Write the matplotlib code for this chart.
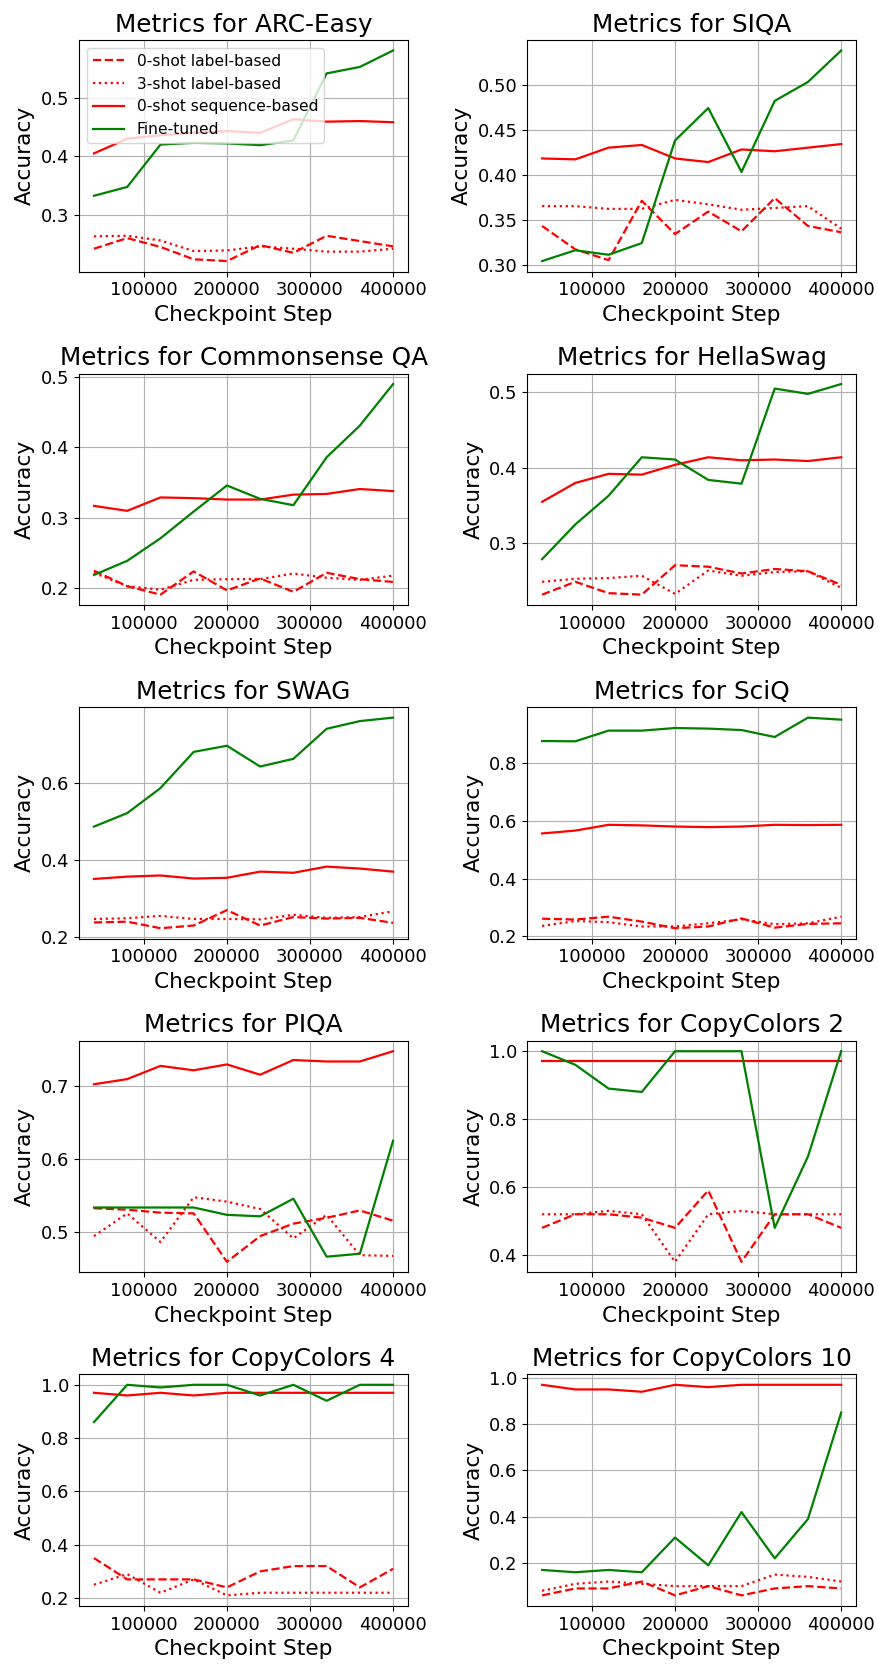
import matplotlib
matplotlib.use("Agg")
import matplotlib.pyplot as plt

steps = [40000, 80000, 120000, 160000, 200000, 240000, 280000, 320000, 360000, 400000]

tasks = ["ARC-Easy", "SIQA", "Commonsense QA", "HellaSwag", "SWAG", "SciQ",
         "PIQA", "CopyColors 2", "CopyColors 4", "CopyColors 10"]

# 0-shot label-based
zero_label = {
    "ARC-Easy":       [0.243, 0.261, 0.246, 0.225, 0.222, 0.249, 0.236, 0.265, 0.256, 0.247],
    "SIQA":           [0.343, 0.317, 0.305, 0.371, 0.334, 0.359, 0.337, 0.374, 0.343, 0.336],
    "Commonsense QA": [0.225, 0.203, 0.191, 0.224, 0.197, 0.214, 0.195, 0.222, 0.213, 0.209],
    "HellaSwag":      [0.232, 0.249, 0.234, 0.232, 0.271, 0.269, 0.260, 0.266, 0.263, 0.245],
    "SWAG":           [0.238, 0.240, 0.223, 0.230, 0.270, 0.230, 0.252, 0.248, 0.250, 0.237],
    "SciQ":           [0.261, 0.258, 0.268, 0.251, 0.228, 0.234, 0.262, 0.230, 0.243, 0.245],
    "PIQA":           [0.533, 0.531, 0.527, 0.526, 0.460, 0.495, 0.512, 0.520, 0.530, 0.516],
    "CopyColors 2":   [0.48, 0.52, 0.52, 0.51, 0.48, 0.59, 0.38, 0.52, 0.52, 0.48],
    "CopyColors 4":   [0.35, 0.27, 0.27, 0.27, 0.24, 0.30, 0.32, 0.32, 0.24, 0.31],
    "CopyColors 10":  [0.06, 0.09, 0.09, 0.12, 0.06, 0.10, 0.06, 0.09, 0.10, 0.09],
}

# 3-shot label-based
three_label = {
    "ARC-Easy":       [0.264, 0.265, 0.257, 0.239, 0.240, 0.247, 0.243, 0.238, 0.238, 0.243],
    "SIQA":           [0.365, 0.365, 0.362, 0.362, 0.372, 0.367, 0.361, 0.363, 0.365, 0.340],
    "Commonsense QA": [0.222, 0.203, 0.198, 0.212, 0.213, 0.213, 0.221, 0.215, 0.212, 0.218],
    "HellaSwag":      [0.249, 0.253, 0.254, 0.257, 0.233, 0.264, 0.257, 0.262, 0.263, 0.241],
    "SWAG":           [0.247, 0.249, 0.255, 0.247, 0.247, 0.246, 0.258, 0.250, 0.252, 0.267],
    "SciQ":           [0.236, 0.253, 0.249, 0.234, 0.234, 0.245, 0.259, 0.242, 0.245, 0.268],
    "PIQA":           [0.495, 0.526, 0.487, 0.548, 0.542, 0.532, 0.492, 0.524, 0.469, 0.468],
    "CopyColors 2":   [0.52, 0.52, 0.53, 0.52, 0.38, 0.52, 0.53, 0.52, 0.52, 0.52],
    "CopyColors 4":   [0.25, 0.29, 0.22, 0.27, 0.21, 0.22, 0.22, 0.22, 0.22, 0.22],
    "CopyColors 10":  [0.08, 0.11, 0.12, 0.11, 0.10, 0.10, 0.10, 0.15, 0.14, 0.12],
}

# 0-shot sequence-based
zero_seq = {
    "ARC-Easy":       [0.405, 0.430, 0.436, 0.440, 0.443, 0.440, 0.463, 0.459, 0.460, 0.458],
    "SIQA":           [0.418, 0.417, 0.430, 0.433, 0.418, 0.414, 0.428, 0.426, 0.430, 0.434],
    "Commonsense QA": [0.317, 0.310, 0.329, 0.328, 0.326, 0.326, 0.333, 0.334, 0.341, 0.338],
    "HellaSwag":      [0.355, 0.380, 0.392, 0.391, 0.404, 0.414, 0.410, 0.411, 0.409, 0.414],
    "SWAG":           [0.351, 0.357, 0.360, 0.352, 0.354, 0.370, 0.367, 0.383, 0.378, 0.370],
    "SciQ":           [0.556, 0.566, 0.586, 0.584, 0.580, 0.578, 0.580, 0.586, 0.585, 0.586],
    "PIQA":           [0.702, 0.709, 0.727, 0.721, 0.729, 0.715, 0.735, 0.733, 0.733, 0.747],
    "CopyColors 2":   [0.97, 0.97, 0.97, 0.97, 0.97, 0.97, 0.97, 0.97, 0.97, 0.97],
    "CopyColors 4":   [0.97, 0.96, 0.97, 0.96, 0.97, 0.97, 0.97, 0.97, 0.97, 0.97],
    "CopyColors 10":  [0.97, 0.95, 0.95, 0.94, 0.97, 0.96, 0.97, 0.97, 0.97, 0.97],
}

# Fine-tuned
fine_tuned = {
    "ARC-Easy":       [0.333, 0.348, 0.420, 0.423, 0.422, 0.419, 0.427, 0.541, 0.552, 0.580],
    "SIQA":           [0.304, 0.316, 0.311, 0.324, 0.438, 0.474, 0.403, 0.482, 0.503, 0.538],
    "Commonsense QA": [0.219, 0.239, 0.271, 0.309, 0.346, 0.327, 0.318, 0.386, 0.431, 0.490],
    "HellaSwag":      [0.279, 0.325, 0.363, 0.414, 0.411, 0.384, 0.379, 0.505, 0.498, 0.511],
    "SWAG":           [0.487, 0.522, 0.587, 0.681, 0.697, 0.643, 0.663, 0.741, 0.761, 0.770],
    "SciQ":           [0.876, 0.875, 0.912, 0.912, 0.921, 0.919, 0.914, 0.890, 0.957, 0.950],
    "PIQA":           [0.534, 0.534, 0.534, 0.534, 0.524, 0.522, 0.546, 0.467, 0.471, 0.625],
    "CopyColors 2":   [1.00, 0.96, 0.89, 0.88, 1.00, 1.00, 1.00, 0.48, 0.69, 1.00],
    "CopyColors 4":   [0.86, 1.00, 0.99, 1.00, 1.00, 0.96, 1.00, 0.94, 1.00, 1.00],
    "CopyColors 10":  [0.17, 0.16, 0.17, 0.16, 0.31, 0.19, 0.42, 0.22, 0.39, 0.85],
}

fig, axes = plt.subplots(5, 2, figsize=(8.79, 16.64), dpi=100)
fig.subplots_adjust(left=0.0899, right=0.974, top=0.976, bottom=0.0349,
                    hspace=0.44, wspace=0.362)
for ax, task in zip(axes.flat, tasks):
    ax.plot(steps, zero_label[task], color="red", linestyle="--", lw=1.6, label="0-shot label-based")
    ax.plot(steps, three_label[task], color="red", linestyle=":", lw=1.6, label="3-shot label-based")
    ax.plot(steps, zero_seq[task], color="red", linestyle="-", lw=1.6, label="0-shot sequence-based")
    ax.plot(steps, fine_tuned[task], color="green", linestyle="-", lw=1.6, label="Fine-tuned")
    ax.set_title(f"Metrics for {task}", fontsize=17.8)
    ax.set_xlabel("Checkpoint Step", fontsize=15.6)
    ax.set_ylabel("Accuracy", fontsize=15.6)
    ax.tick_params(labelsize=13)
    ax.set_xticks([100000, 200000, 300000, 400000])
    ax.set_xticklabels(["100000", "200000", "300000", "400000"])
    ax.grid(True)
axes.flat[0].legend(loc="upper left", fontsize=11.2)

fig.savefig("out.png", dpi=100)
